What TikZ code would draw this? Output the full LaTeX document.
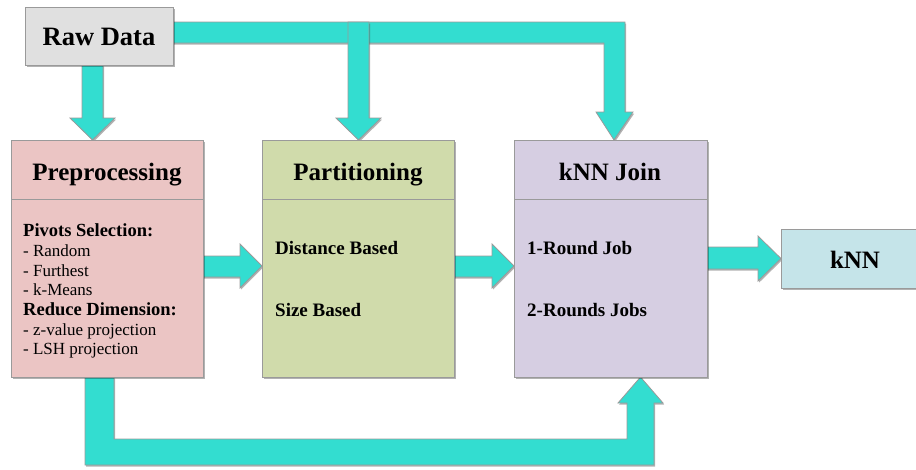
\documentclass[tikz,border=0pt]{standalone}
\usepackage{fontspec}
\setmainfont{Liberation Serif}
\usetikzlibrary{shadows}
\definecolor{flowteal}{HTML}{33DDD0}
\definecolor{edgegray}{HTML}{9A9A9A}
\definecolor{rawfill}{HTML}{E0E0E0}
\definecolor{prefill}{HTML}{EBC5C4}
\definecolor{partfill}{HTML}{D0DBAB}
\definecolor{joinfill}{HTML}{D6CEE2}
\definecolor{outfill}{HTML}{C5E4E9}
\begin{document}
\begin{tikzpicture}[x=1pt,y=-1pt,
  softshadow/.style={drop shadow={shadow xshift=1.2pt,shadow yshift=-1.5pt,opacity=0.3,fill=black}},
  box/.style={draw=edgegray,line width=0.8pt,softshadow,inner sep=0pt,anchor=north west},
  flow/.style={fill=flowteal,draw=edgegray,line width=0.8pt,line join=miter,softshadow},
  title/.style={font=\bfseries\fontsize{25}{30}\selectfont,anchor=base,inner sep=0pt},
  entry/.style={font=\bfseries\fontsize{19}{23}\selectfont,anchor=base west,inner sep=0pt},
  subhead/.style={font=\bfseries\fontsize{18.5}{22}\selectfont,anchor=base west,inner sep=0pt},
  subitem/.style={font=\fontsize{17}{20}\selectfont,anchor=base west,inner sep=0pt},
  divider/.style={draw=edgegray,line width=0.8pt}]
\useasboundingbox (0,0) rectangle (916,469);

% Raw data feeds partitioning and the join along the top
\path[flow] (173,22) -- (625,22) -- (625,112) -- (633,112) -- (614,140)
  -- (596,112) -- (604,112) -- (604,43) -- (173,43) -- cycle;
\path[flow] (348,22) -- (369,22) -- (369,118) -- (381,118) -- (358.5,140)
  -- (336,118) -- (348,118) -- cycle;
% Raw data into preprocessing
\path[flow] (82,65) -- (103,65) -- (103,118) -- (115,118) -- (92.5,140)
  -- (70,118) -- (82,118) -- cycle;
% Preprocessing output routed underneath to the join
\path[flow] (85,377) -- (85,465) -- (654,465) -- (654,403) -- (663,403)
  -- (640.5,377) -- (618,403) -- (627,403) -- (627,439) -- (114,439)
  -- (114,377) -- cycle;
% Horizontal stage-to-stage arrows
\path[flow] (203,256) -- (240,256) -- (240,244) -- (262,266) -- (240,288)
  -- (240,277) -- (203,277) -- cycle;
\path[flow] (454,256) -- (492,256) -- (492,244) -- (514,266) -- (492,288)
  -- (492,277) -- (454,277) -- cycle;
\path[flow] (707,247) -- (758,247) -- (758,236) -- (781,258.5) -- (758,281)
  -- (758,269) -- (707,269) -- cycle;

% Boxes
\node[box,fill=rawfill,minimum width=148pt,minimum height=58pt] (raw) at (25,7) {};
\node[title,font=\bfseries\fontsize{26.5}{30}\selectfont] (rawt) at (99,45.5) {Raw Data};

% height of the header rule shared by the three stage boxes
\coordinate (pred) at (0,199);

\node[box,fill=prefill,minimum width=192pt,minimum height=237pt] (pre) at (11,140) {};
\node[title] (pret) at (107,180) {Preprocessing};
\draw[divider] (pre.west |- pred) -- (pre.east |- pred);
\node[subhead] (pv) at (23,236.7) {Pivots Selection:};
\node[subitem] (pv1) at (23,256.4) {- Random};
\node[subitem] (pv2) at (23,276) {- Furthest};
\node[subitem] (pv3) at (23,295.6) {- k-Means};
\node[subhead] (rd) at (23,315.4) {Reduce Dimension:};
\node[subitem] (rd1) at (23,335) {- z-value projection};
\node[subitem] (rd2) at (23,354.4) {- LSH projection};

\node[box,fill=partfill,minimum width=192pt,minimum height=237pt] (part) at (262,140) {};
\node[title] (partt) at (358,180) {Partitioning};
\draw[divider] (part.west |- pred) -- (part.east |- pred);
\node[entry] (pa1) at (275,254) {Distance Based};
\node[entry] (pa2) at (275,316) {Size Based};

\node[box,fill=joinfill,minimum width=193pt,minimum height=237pt] (join) at (514,140) {};
\node[title] (joint) at (610,180) {kNN Join};
\draw[divider] (join.west |- pred) -- (join.east |- pred);
\node[entry] (jo1) at (527,254) {1-Round Job};
\node[entry] (jo2) at (527,316) {2-Rounds Jobs};

\node[box,fill=outfill,minimum width=140pt,minimum height=59pt] (out) at (781,229) {};
\node[title] (outt) at (855,268) {kNN};
\end{tikzpicture}
\end{document}
